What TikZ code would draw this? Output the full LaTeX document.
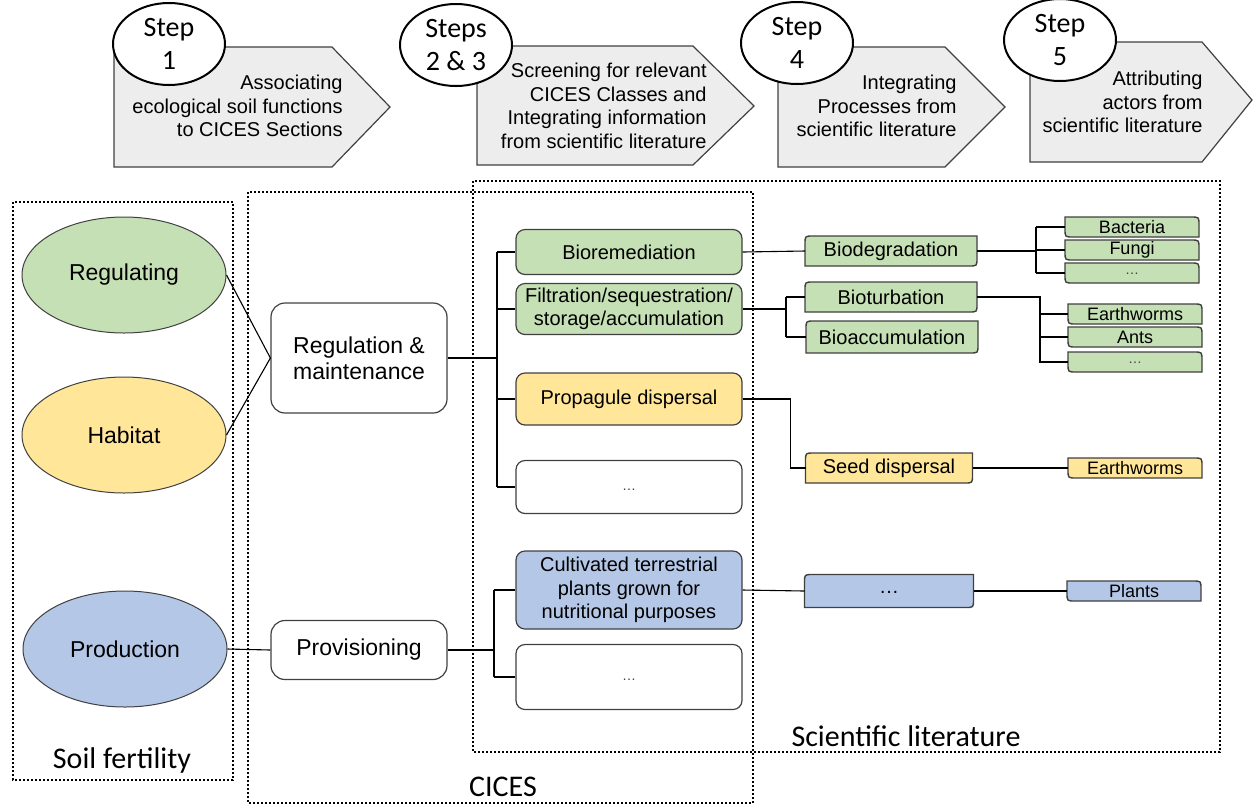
\documentclass[tikz,border=0pt]{standalone}
\usepackage{fontspec}
\setmainfont{Liberation Sans}
\newfontfamily\calibri{Carlito}
\usetikzlibrary{shapes.geometric,backgrounds}

\definecolor{regGreen}{HTML}{C5E0B4}
\definecolor{habYellow}{HTML}{FFE699}
\definecolor{prodBlue}{HTML}{B4C7E7}
\definecolor{stepGray}{HTML}{EDEDED}
\definecolor{edgeGray}{HTML}{404040}

\tikzset{
  stepbox/.style={draw=edgeGray, line width=0.6pt, fill=stepGray},
  steptext/.style={align=right, inner sep=0pt, font=\fontsize{10}{11.8}\selectfont},
  stepoval/.style={ellipse, draw=black, line width=1pt, fill=white, minimum width=56pt, minimum height=41pt, inner sep=0pt},
  steplabel/.style={align=center, inner sep=0pt, font=\calibri\fontsize{14}{16.5}\selectfont},
  func/.style={ellipse, draw=edgeGray, line width=0.5pt, minimum width=102pt, minimum height=58pt, font=\fontsize{11.5}{13}\selectfont},
  section/.style={rectangle, rounded corners=7pt, draw=edgeGray, line width=0.6pt, minimum width=88pt, align=center, font=\fontsize{11.5}{13}\selectfont},
  class/.style={rectangle, rounded corners=4.5pt, draw=edgeGray, line width=0.6pt, minimum width=113pt, inner sep=0pt, align=center, font=\fontsize{10}{11.8}\selectfont},
  proc/.style={rectangle, minimum width=86pt, minimum height=15pt, inner sep=0pt, outer sep=0pt, font=\fontsize{10}{12}\selectfont},
  actor/.style={rectangle, minimum width=67pt, minimum height=10pt, inner sep=0pt, outer sep=0pt, font=\fontsize{9}{10}\selectfont},
  frame/.style={draw=black, line width=1pt, dash pattern=on 1pt off 1pt},
  framelabel/.style={inner sep=0pt, font=\calibri\fontsize{15}{18}\selectfont},
  link/.style={draw=black, line width=0.55pt},
  more/.style={font=\fontsize{7}{8}\selectfont, text=edgeGray}
}

% process box: rounded top left and bottom right
\newcommand{\procshape}[2]{%
  \begin{pgfonlayer}{background}
  \draw[edgeGray, line width=0.7pt, fill=#2] ([yshift=-4pt]#1.north west) .. controls (#1.north west) .. ([xshift=4pt]#1.north west) -- (#1.north east) -- ([yshift=4pt]#1.south east) .. controls (#1.south east) .. ([xshift=-4pt]#1.south east) -- (#1.south west) -- cycle;
  \end{pgfonlayer}}
% actor box: rounded top right and bottom left
\newcommand{\actorshape}[2]{%
  \begin{pgfonlayer}{background}
  \draw[edgeGray, line width=0.7pt, fill=#2] (#1.north west) -- ([xshift=-4pt]#1.north east) .. controls (#1.north east) .. ([yshift=-4pt]#1.north east) -- (#1.south east) -- ([xshift=4pt]#1.south west) .. controls (#1.south west) .. ([yshift=4pt]#1.south west) -- cycle;
  \end{pgfonlayer}}

\begin{document}
\begin{tikzpicture}[x=0.5pt, y=-0.5pt]
\useasboundingbox (0,0) rectangle (1253,805);

% steps
\draw[stepbox] (114,47) -- (332,47) -- (390,107) -- (332,167) -- (114,167) -- cycle;
\draw[stepbox] (477,46) -- (693,46) -- (754,106) -- (693,165) -- (477,165) -- cycle;
\draw[stepbox] (778,47) -- (945,47) -- (1005,107) -- (945,167) -- (778,167) -- cycle;
\draw[stepbox] (1030,42) -- (1202,42) -- (1252,100) -- (1202,162) -- (1030,162) -- cycle;
\node[steptext, anchor=east] (t1) at (343,106) {Associating\\ecological soil functions\\to CICES Sections};
\node[steptext, anchor=east] (t23) at (707,106) {Screening for relevant\\CICES Classes and\\Integrating information\\from scientific literature};
\node[steptext, anchor=east] (t4) at (957,106) {Integrating\\Processes from\\scientific literature};
\node[steptext, anchor=east] (t5) at (1203,102) {Attributing\\actors from\\scientific literature};
\node[stepoval, label={[steplabel]center:{Step\\1}}] (s1) at (169,44) {};
\node[stepoval, label={[steplabel]center:{Steps\\2 \& 3}}] (s23) at (456,45) {};
\node[stepoval, label={[steplabel]center:{Step\\4}}] (s4) at (797,43) {};
\node[stepoval, label={[steplabel]center:{Step\\5}}] (s5) at (1060,40) {};

% frames
\draw[frame] (13,202) rectangle (233,780);
\draw[frame] (248,192) rectangle (753,803);
\draw[frame] (473,181) rectangle (1220,752);
\node[framelabel] (soil) at (122,760) {Soil fertility};
\node[framelabel] (cices) at (503,787) {CICES};
\node[framelabel] (sci) at (906,736) {Scientific literature};

% soil functions
\node[func, fill=regGreen] (reg) at (124,275) {Regulating};
\node[func, fill=habYellow] (hab) at (124,435) {Habitat};
\node[func, fill=prodBlue] (prod) at (125,649) {Production};

% CICES sections
\node[section, minimum height=55pt] (regmain) at (359,358) {Regulation \&\\maintenance};
\node[section, minimum height=29.5pt] (prov) at (359,650) {Provisioning};

% CICES classes
\node[class, fill=regGreen, minimum height=22.5pt] (biorem) at (629,252) {Bioremediation};
\node[class, fill=regGreen, minimum height=25.5pt] (filt) at (629,309) {Filtration/sequestration/\\storage/accumulation};
\node[class, fill=habYellow, minimum height=26pt] (propag) at (629,399) {Propagule dispersal};
\node[class, fill=white, minimum height=26.5pt] (morereg) at (629,487) {\raisebox{-3pt}{\textcolor{edgeGray}{\fontsize{7}{8}\selectfont\dots}}};
\node[class, fill=prodBlue, minimum height=39pt] (cultiv) at (629,590) {Cultivated terrestrial\\plants grown for\\nutritional purposes};
\node[class, fill=white, minimum height=32.5pt] (moreprov) at (629,677) {\raisebox{-3pt}{\textcolor{edgeGray}{\fontsize{7}{8}\selectfont\dots}}};

% processes
\node[proc] (biodeg) at (891,251) {Biodegradation};
\node[proc] (bioturb) at (891,297) {Bioturbation};
\node[proc, minimum height=16pt] (bioacc) at (892,337) {Bioaccumulation};
\node[proc, minimum width=83.5pt] (seed) at (889,468) {Seed dispersal};
\node[proc, minimum width=84.5pt, minimum height=16.5pt] (moreproc) at (889,591) {\raisebox{-2pt}{\dots}};
\procshape{biodeg}{regGreen}
\procshape{bioturb}{regGreen}
\procshape{bioacc}{regGreen}
\procshape{seed}{habYellow}
\procshape{moreproc}{prodBlue}

% actors
\node[actor] (bact) at (1132,227) {Bacteria};
\node[actor] (fungi) at (1132,250) {Fungi};
\node[actor] (moreA) at (1132,273) {\raisebox{-1.5pt}{\textcolor{edgeGray}{\fontsize{7}{8}\selectfont\dots}}};
\node[actor] (earth) at (1135,314) {Earthworms};
\node[actor] (ants) at (1135,337) {Ants};
\node[actor] (moreB) at (1135,362) {\raisebox{-1.5pt}{\textcolor{edgeGray}{\fontsize{7}{8}\selectfont\dots}}};
\node[actor] (earthY) at (1135,468) {Earthworms};
\node[actor] (plants) at (1134,591) {Plants};
\actorshape{bact}{regGreen}
\actorshape{fungi}{regGreen}
\actorshape{moreA}{regGreen}
\actorshape{earth}{regGreen}
\actorshape{ants}{regGreen}
\actorshape{moreB}{regGreen}
\actorshape{earthY}{habYellow}
\actorshape{plants}{prodBlue}

% links functions - sections
\draw[link] (reg.east) -- (regmain.west);
\draw[link] (hab.east) -- (regmain.west);
\draw[link] (prod.east) -- (prov.west);

% links sections - classes
\coordinate (regbus) at (497,358);
\draw[link, line width=0.9pt] (regmain.east) -- (regbus);
\draw[link] (regbus |- biorem.west) -- (regbus |- morereg.west);
\draw[link] (regbus |- biorem.west) -- (biorem.west);
\draw[link] (regbus |- filt.west) -- (filt.west);
\draw[link] (regbus |- propag.west) -- (propag.west);
\draw[link] (regbus |- morereg.west) -- (morereg.west);
\coordinate (provbus) at (494,650);
\draw[link, line width=0.9pt] (prov.east) -- (provbus);
\draw[link] (provbus |- cultiv.west) -- (provbus |- moreprov.west);
\draw[link] (provbus |- cultiv.west) -- (cultiv.west);
\draw[link] (provbus |- moreprov.west) -- (moreprov.west);

% links classes - processes
\draw[link] (biorem.east) -- (biodeg.west);
\coordinate (filtbus) at (786,309);
\draw[link, line width=0.9pt] (filt.east) -- (filtbus);
\draw[link] (filtbus |- bioturb.west) -- (filtbus |- bioacc.west);
\draw[link] (filtbus |- bioturb.west) -- (bioturb.west);
\draw[link] (filtbus |- bioacc.west) -- (bioacc.west);
\draw[link] (propag.east) -- ++(48,0) |- (seed.west);
\draw[link] (cultiv.east) -- (moreproc.west);

% links processes - actors
\coordinate (degbus) at (1036,251);
\draw[link, line width=0.9pt] (biodeg.east) -- (degbus);
\draw[link] (degbus |- bact.west) -- (degbus |- moreA.west);
\draw[link] (degbus |- bact.west) -- (bact.west);
\draw[link] (degbus |- fungi.west) -- (fungi.west);
\draw[link] (degbus |- moreA.west) -- (moreA.west);
\coordinate (turbbus) at (1040,297);
\draw[link] (bioturb.east) -- (turbbus) |- (moreB.west);
\draw[link] (turbbus |- earth.west) -- (earth.west);
\draw[link] (turbbus |- ants.west) -- (ants.west);
\draw[link] (seed.east) -- (earthY.west);
\draw[link] (moreproc.east) -- (plants.west);
\end{tikzpicture}
\end{document}
